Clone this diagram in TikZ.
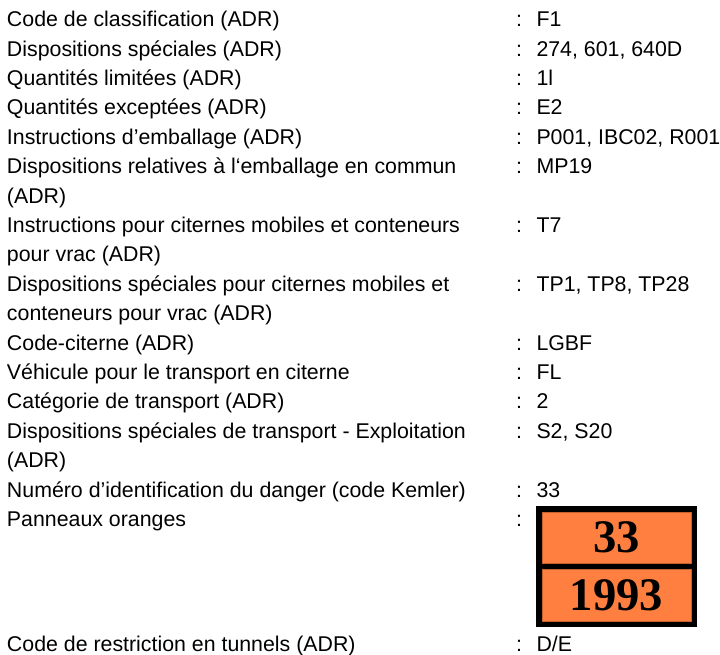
\documentclass[tikz,border=0pt]{standalone}
\usepackage{fontspec}
\setmainfont{Liberation Sans}
\newfontfamily\panelfont{Liberation Serif}
\definecolor{panelorange}{HTML}{FF7F40}
\definecolor{paneledge}{HTML}{C8602C}
\begin{document}
\begin{tikzpicture}[x=0.75pt,y=-0.75pt,
  lbl/.style={anchor=base west,inner sep=0pt,outer sep=0pt,font=\fontsize{16}{18}\selectfont},
  colon/.style={lbl},
  val/.style={lbl},
  outerpanel/.style={fill=black,inner sep=0pt,minimum width=120.75pt,minimum height=90.75pt},
  orangebox/.style={fill=panelorange,draw=paneledge,line width=0.4pt,inner sep=0pt,minimum width=111.75pt,font=\panelfont\bfseries\fontsize{35}{36}\selectfont}
]
\useasboundingbox (0,0) rectangle (720,655);
% rows
\node[lbl] (l0) at (7,26.7) {Code de classification (ADR)};
\node[colon] (c0) at (516,26.7) {:};
\node[val] (v0) at (536.5,26.7) {F1};
\node[lbl] (l1) at (7,56.1) {Dispositions spéciales (ADR)};
\node[colon] (c1) at (516,56.1) {:};
\node[val] (v1) at (536.5,56.1) {274, 601, 640D};
\node[lbl] (l2) at (7,85.5) {Quantités limitées (ADR)};
\node[colon] (c2) at (516,85.5) {:};
\node[val] (v2) at (536.5,85.5) {1l};
\node[lbl] (l3) at (7,114.9) {Quantités exceptées (ADR)};
\node[colon] (c3) at (516,114.9) {:};
\node[val] (v3) at (536.5,114.9) {E2};
\node[lbl] (l4) at (7,144.3) {Instructions d’emballage (ADR)};
\node[colon] (c4) at (516,144.3) {:};
\node[val] (v4) at (536.5,144.3) {P001, IBC02, R001};
\node[lbl] (l5) at (7,173.7) {Dispositions relatives à l‘emballage en commun};
\node[lbl] (l5b) at (7,203.1) {(ADR)};
\node[colon] (c5) at (516,173.7) {:};
\node[val] (v5) at (536.5,173.7) {MP19};
\node[lbl] (l7) at (7,232.5) {Instructions pour citernes mobiles et conteneurs};
\node[lbl] (l7b) at (7,261.9) {pour vrac (ADR)};
\node[colon] (c7) at (516,232.5) {:};
\node[val] (v7) at (536.5,232.5) {T7};
\node[lbl] (l9) at (7,291.3) {Dispositions spéciales pour citernes mobiles et};
\node[lbl] (l9b) at (7,320.7) {conteneurs pour vrac (ADR)};
\node[colon] (c9) at (516,291.3) {:};
\node[val] (v9) at (536.5,291.3) {TP1, TP8, TP28};
\node[lbl] (l11) at (7,350.1) {Code-citerne (ADR)};
\node[colon] (c11) at (516,350.1) {:};
\node[val] (v11) at (536.5,350.1) {LGBF};
\node[lbl] (l12) at (7,379.5) {Véhicule pour le transport en citerne};
\node[colon] (c12) at (516,379.5) {:};
\node[val] (v12) at (536.5,379.5) {FL};
\node[lbl] (l13) at (7,408.9) {Catégorie de transport (ADR)};
\node[colon] (c13) at (516,408.9) {:};
\node[val] (v13) at (536.5,408.9) {2};
\node[lbl] (l14) at (7,438.3) {Dispositions spéciales de transport - Exploitation};
\node[lbl] (l14b) at (7,467.7) {(ADR)};
\node[colon] (c14) at (516,438.3) {:};
\node[val] (v14) at (536.5,438.3) {S2, S20};
\node[lbl] (l16) at (7,497.1) {Numéro d’identification du danger (code Kemler)};
\node[colon] (c16) at (516,497.1) {:};
\node[val] (v16) at (536.5,497.1) {33};
\node[lbl] (l17) at (7,526.5) {Panneaux oranges};
\node[colon] (c17) at (516,526.5) {:};
% orange panel
\node[outerpanel] (panel) at (616.5,566.5) {};
\node[orangebox,minimum height=38.25pt] (pantop) at (616.5,537.5) {33};
\node[orangebox,minimum height=39pt] (panbot) at (616.5,595) {1993};
% last row
\node[lbl] (l18) at (7,651.5) {Code de restriction en tunnels (ADR)};
\node[colon] (c18) at (516,651.5) {:};
\node[val] (v18) at (536.5,651.5) {D/E};
\end{tikzpicture}
\end{document}
